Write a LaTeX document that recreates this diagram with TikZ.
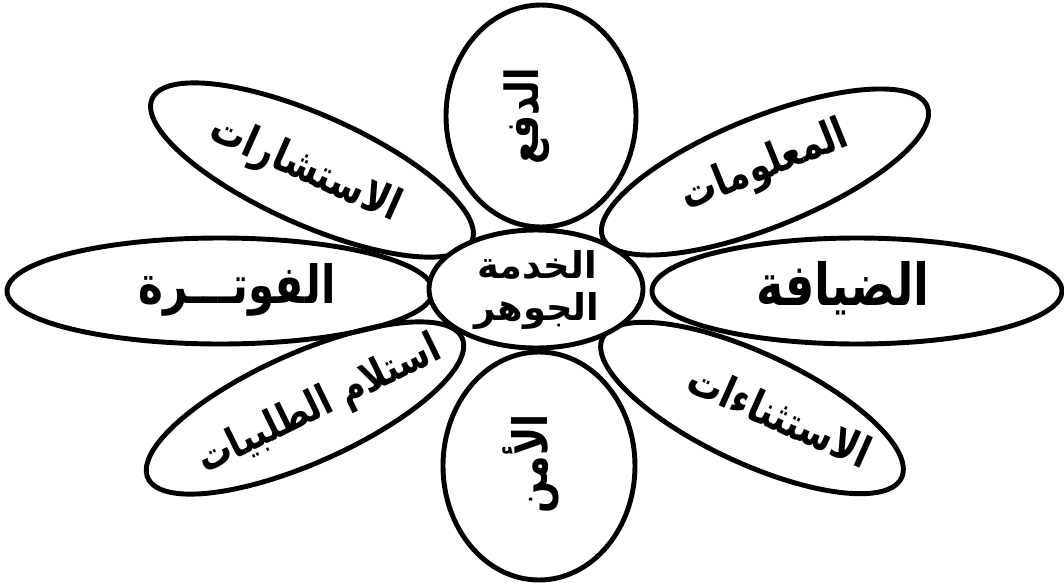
\documentclass[tikz,border=0pt]{standalone}
\usepackage{fontspec}
\newfontfamily\arabicfont[Script=Arabic,FakeStretch=0.8]{DejaVu Sans}
\newfontfamily\corefont[Script=Arabic]{DejaVu Sans}
\TeXXeTstate=1

\begin{document}
\begin{tikzpicture}[petal/.style={line width=1.4pt},
  lbl/.style={font=\arabicfont\bfseries\fontsize{#1}{#1}\selectfont,inner sep=0pt},
  lbl/.default=12.5,
  core/.style={font=\corefont\bfseries\fontsize{10.5}{12}\selectfont,inner sep=0pt,align=center}]
\useasboundingbox (0,0) rectangle (10.64,5.82);
% petals
\draw[petal] (5.41,4.66) ellipse [x radius=0.95, y radius=1.11];
\draw[petal] (5.39,1.16) ellipse [x radius=0.96, y radius=1.14];
\draw[petal] (2.20,2.91) ellipse [x radius=2.13, y radius=0.53];
\draw[petal] (8.57,2.91) ellipse [x radius=2.05, y radius=0.53];
\draw[petal,rotate around={-24:(3.12,4.12)}] (3.12,4.12) ellipse [x radius=1.75, y radius=0.55];
\draw[petal,rotate around={22:(7.65,4.10)}] (7.65,4.10) ellipse [x radius=1.75, y radius=0.55];
\draw[petal,rotate around={24:(3.05,1.74)}] (3.05,1.74) ellipse [x radius=1.72, y radius=0.55];
\draw[petal,rotate around={-25:(7.52,1.74)}] (7.52,1.74) ellipse [x radius=1.65, y radius=0.55];
% centre
\draw[petal,fill=white] (5.36,2.93) ellipse [x radius=1.07, y radius=0.59];
\node[core] (coreservice) at (5.37,2.92) {\beginR الخدمة\endR\\\beginR الجوهر\endR};
% labels
\node[lbl=13,rotate=90] (payment) at (5.27,4.66) {\beginR الدفع\endR};
\node[lbl=13.5,rotate=90] (safekeeping) at (5.31,1.18) {\beginR الأمن\endR};
\node[lbl=15] (billing) at (2.37,2.92) {\beginR الفوتـــرة\endR};
\node[lbl=16.5] (hospitality) at (8.43,2.94) {\beginR الضيافة\endR};
\node[lbl,rotate=-24] (consultation) at (3.05,4.12) {\beginR الاستشارات\endR};
\node[lbl,rotate=22] (information) at (7.65,4.15) {\beginR المعلومات\endR};
\node[lbl=12,rotate=26] (ordertaking) at (3.20,1.76) {\beginR استلام الطلبيات\endR};
\node[lbl,rotate=-24] (exceptions) at (7.80,1.67) {\beginR الاستثناءات\endR};
\end{tikzpicture}
\end{document}
